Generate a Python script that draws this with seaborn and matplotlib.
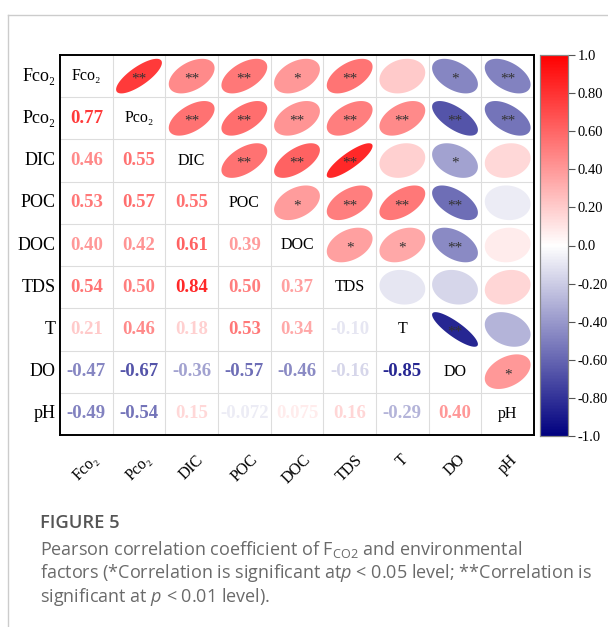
import numpy as np
import pandas as pd
import seaborn as sns
import matplotlib.pyplot as plt
from matplotlib.colors import LinearSegmentedColormap
from matplotlib.lines import Line2D

labels = ['Fco₂', 'Pco₂', 'DIC', 'POC', 'DOC', 'TDS', 'T', 'DO', 'pH']

# lower triangle of the correlation matrix, row by row
r_pco2 = [0.77]
r_dic = [0.46, 0.55]
r_poc = [0.53, 0.57, 0.55]
r_doc = [0.40, 0.42, 0.61, 0.39]
r_tds = [0.54, 0.50, 0.84, 0.50, 0.37]
r_t = [0.21, 0.46, 0.18, 0.53, 0.34, -0.10]
r_do = [-0.47, -0.67, -0.36, -0.57, -0.46, -0.16, -0.85]
r_ph = [-0.49, -0.54, 0.15, -0.072, 0.075, 0.16, -0.29, 0.40]

# significance marks of the upper triangle (row i, columns i+1 ...)
s_fco2 = ['**', '**', '**', '*', '**', '', '*', '**']
s_pco2 = ['**', '**', '**', '**', '**', '**', '**']
s_dic = ['**', '**', '**', '', '*', '']
s_poc = ['*', '**', '**', '**', '']
s_doc = ['*', '*', '**', '']
s_tds = ['', '', '']
s_t = ['**', '']
s_do = ['*']

lower = [[], r_pco2, r_dic, r_poc, r_doc, r_tds, r_t, r_do, r_ph]
stars = [s_fco2, s_pco2, s_dic, s_poc, s_doc, s_tds, s_t, s_do, []]

n = len(labels)
corr = np.eye(n)
for i, row in enumerate(lower):
    for j, v in enumerate(row):
        corr[i, j] = v
        corr[j, i] = v
df = pd.DataFrame(corr, index=labels, columns=labels)

plt.rcParams['font.family'] = ['Liberation Serif', 'DejaVu Serif']
plt.rcParams['mathtext.fontset'] = 'custom'
plt.rcParams['mathtext.rm'] = 'Open Sans'
plt.rcParams['mathtext.it'] = 'Open Sans:italic'

cmap = LinearSegmentedColormap.from_list('bwr2', ['#00007F', '#FFFFFF', '#FF0000'])

fig = plt.figure(figsize=(6.08, 6.27), dpi=100)
ax = fig.add_axes([60 / 608, 1 - 435 / 627, 474 / 608, 380 / 627])
cax = fig.add_axes([540 / 608, 1 - 436 / 627, 28 / 608, 381 / 627])

sns.heatmap(df, mask=np.ones_like(corr, dtype=bool), cmap=cmap, vmin=-1, vmax=1,
            ax=ax, cbar_ax=cax, xticklabels=labels, yticklabels=labels)

# light grid + black frame
for k in range(1, n):
    ax.axhline(k, color='#dddddd', lw=0.8, zorder=1)
    ax.axvline(k, color='#dddddd', lw=0.8, zorder=1)
for s in ax.spines.values():
    s.set_visible(True)
    s.set_color('black')
    s.set_linewidth(1.4)

t = np.linspace(0, 2 * np.pi, 100)
for i in range(n):
    for j in range(n):
        cx, cy = j + 0.5, i + 0.5
        v = corr[i, j]
        if i == j:
            ax.text(cx, cy, labels[i], ha='center', va='center', fontsize=11.5, color='black')
        elif i > j:
            s = f'{v:.3f}' if abs(v) < 0.1 else f'{v:.2f}'
            ax.text(cx, cy, s, ha='center', va='center', fontsize=13.5,
                    fontweight='bold', color=cmap((v + 1) / 2))
        else:
            a = np.arccos(v) / 2
            ex = np.cos(t + a) / 2 * 0.87
            ey = np.cos(t - a) / 2 * 0.82
            ax.fill(cx + ex, cy - ey, color=cmap((v + 1) / 2), lw=0, zorder=2)
            mark = stars[i][j - i - 1]
            if mark:
                ax.text(cx, cy + 0.07, mark, ha='center', va='center', fontsize=11,
                        color='#333333', zorder=3)

ax.tick_params(length=0)
ax.tick_params(axis='y', pad=3, labelsize=13, rotation=0)
ax.tick_params(axis='x', pad=12, labelsize=11.5)
for lab in ax.get_xticklabels():
    lab.set_rotation(45)
    lab.set_ha('center')
for lab in ax.get_yticklabels():
    lab.set_va('center')

cb_ticks = [1.0, 0.8, 0.6, 0.4, 0.2, 0.0, -0.2, -0.4, -0.6, -0.8, -1.0]
cb_labels = ['1.0', '0.80', '0.60', '0.40', '0.20', '0.0', '-0.20', '-0.40', '-0.60', '-0.80', '-1.0']
cax.set_yticks(cb_ticks)
cax.set_yticklabels(cb_labels)
cax.tick_params(labelsize=10.5, length=5, color='#555555', width=0.8, pad=2)
for s in cax.spines.values():
    s.set_visible(True)
    s.set_color('#888888')
    s.set_linewidth(0.8)

# page frame of the figure panel
fig.add_artist(Line2D([8 / 608, 1], [1 - 15 / 627, 1 - 15 / 627], color='#cccccc', lw=1))
fig.add_artist(Line2D([8 / 608, 8 / 608], [0, 1 - 15 / 627], color='#cccccc', lw=1))

cap = dict(family='Open Sans', fontsize=13.0, color='#6a6a6a')
fig.text(40 / 608, 1 - 523 / 627, 'FIGURE 5', family='Open Sans', fontsize=13.2,
         color='#555555', fontweight='semibold', va='center')
fig.text(40 / 608, 1 - 549 / 627,
         r'Pearson correlation coefficient of F$_{\mathregular{CO2}}$ and environmental',
         va='center', **cap)
fig.text(40 / 608, 1 - 573 / 627,
         r'factors (*Correlation is significant at$\mathit{p}$ < 0.05 level; **Correlation is',
         va='center', **cap)
fig.text(40 / 608, 1 - 597 / 627, r'significant at $\mathit{p}$ < 0.01 level).',
         va='center', **cap)

fig.savefig('out.png', dpi=100)
